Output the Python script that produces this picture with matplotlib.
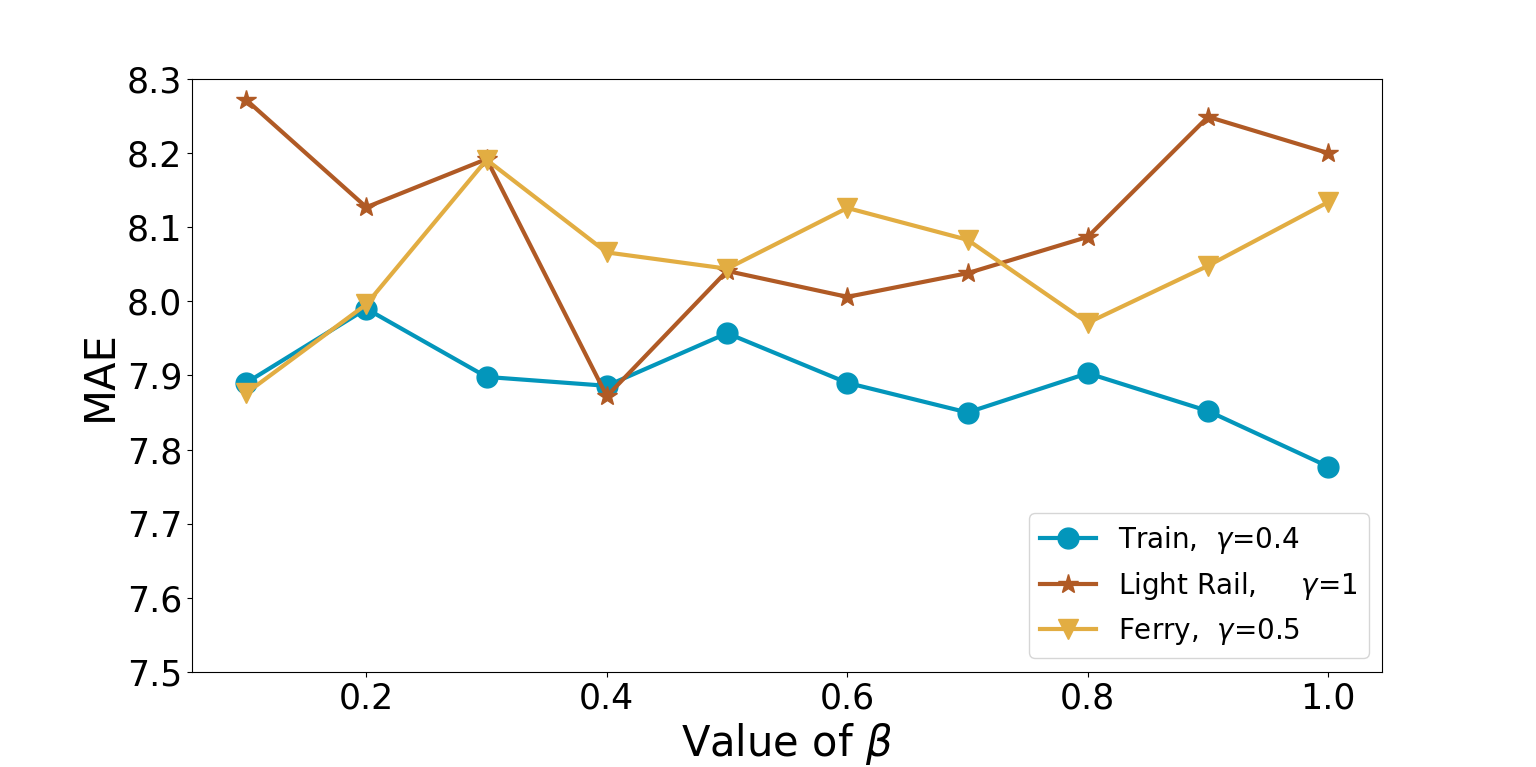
import matplotlib
matplotlib.use("Agg")
import matplotlib.pyplot as plt

beta = [0.1, 0.2, 0.3, 0.4, 0.5, 0.6, 0.7, 0.8, 0.9, 1.0]
train = [7.890, 7.990, 7.898, 7.886, 7.957, 7.890, 7.850, 7.903, 7.852, 7.777]
light_rail = [8.272, 8.127, 8.192, 7.872, 8.041, 8.006, 8.038, 8.087, 8.249, 8.200]
ferry = [7.876, 7.996, 8.191, 8.066, 8.044, 8.126, 8.083, 7.971, 8.048, 8.134]
y_ticks = [7.5, 7.6, 7.7, 7.8, 7.9, 8.0, 8.1, 8.2, 8.3]

fig = plt.figure(figsize=(15.36, 7.67), dpi=100)
ax = fig.add_axes([0.125, 0.124, 0.775, 0.773])

ax.plot(beta, train, color="#0396BB", marker="o", markersize=15, linewidth=3,
        label=r"Train,  $\gamma$=0.4")
ax.plot(beta, light_rail, color="#B05A25", marker="*", markersize=15, linewidth=3,
        label=r"Light Rail,     $\gamma$=1")
ax.plot(beta, ferry, color="#E2AD42", marker="v", markersize=15, linewidth=3,
        label=r"Ferry,  $\gamma$=0.5")

ax.set_ylim(7.5, 8.3)
ax.set_yticks(y_ticks)
ax.set_xticks([0.2, 0.4, 0.6, 0.8, 1.0])
ax.tick_params(labelsize=25)
ax.set_xlabel(r"Value of $\beta$", fontsize=30)
ax.set_ylabel("MAE", fontsize=30)
ax.legend(loc="lower right", fontsize=20)

fig.savefig("out.png")
